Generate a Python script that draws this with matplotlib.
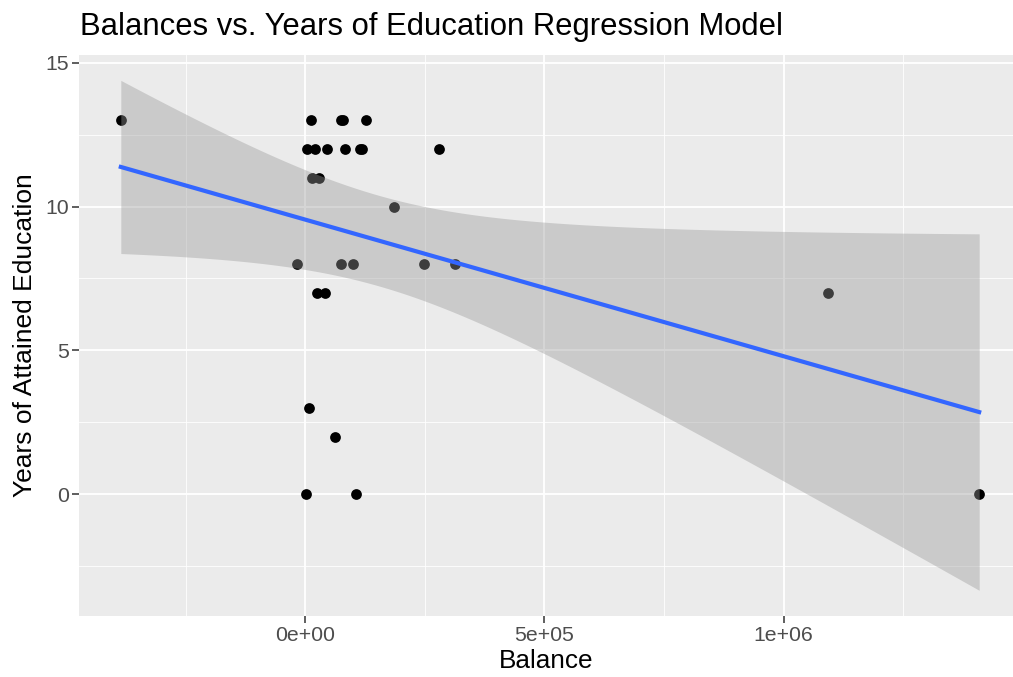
import numpy as np
import matplotlib.pyplot as plt
from matplotlib.ticker import FixedLocator

# balance (x) and years of attained education (y)
balance = [-385600, 12500, 74700, 78900, 127600,
           3600, 20900, 46000, 82200, 114400, 118600, 280300,
           14000, 27800,
           184800,
           -16700, 74700, 99000, 247500, 313800,
           23700, 41800, 1092700,
           6900,
           62100,
           1400, 105300, 1408600]
education = [13, 13, 13, 13, 13,
             12, 12, 12, 12, 12, 12, 12,
             11, 11,
             10,
             8, 8, 8, 8, 8,
             7, 7, 7,
             3,
             2,
             0, 0, 0]

x_ticks = [0, 5e5, 1e6]
x_tick_labels = ['0e+00', '5e+05', '1e+06']
y_ticks = [0, 5, 10, 15]

x = np.array(balance, dtype=float)
y = np.array(education, dtype=float)
n = len(x)

# linear model + 95% confidence band (like geom_smooth(method='lm'))
slope, intercept = np.polyfit(x, y, 1)
x_fit = np.linspace(x.min(), x.max(), 200)
y_fit = intercept + slope * x_fit
resid = y - (intercept + slope * x)
s = np.sqrt(np.sum(resid ** 2) / (n - 2))
sxx = np.sum((x - x.mean()) ** 2)
t_crit = 2.0555  # t(0.975, df=26)
se = s * np.sqrt(1 / n + (x_fit - x.mean()) ** 2 / sxx)

plt.rcParams['font.family'] = ['Liberation Sans', 'DejaVu Sans']

fig = plt.figure(figsize=(10.13, 6.77), dpi=100)
ax = fig.add_axes([79 / 1013, 1 - 615.7 / 677, 1 - 79 / 1013, (615.7 - 55) / 677])
ax.set_facecolor('#EBEBEB')

ax.scatter(x, y, s=60, color='black', zorder=3, linewidths=0)
ax.fill_between(x_fit, y_fit - t_crit * se, y_fit + t_crit * se,
                color='#999999', alpha=0.4, linewidth=0, zorder=4)
ax.plot(x_fit, y_fit, color='#3366FF', lw=3, zorder=5)

ax.set_xlim(-473000, 1479300)
ax.set_ylim(-4.23, 15.27)

ax.set_xticks(x_ticks)
ax.set_xticklabels(x_tick_labels)
ax.set_yticks(y_ticks)
ax.xaxis.set_minor_locator(FixedLocator([-2.5e5, 2.5e5, 7.5e5, 1.25e6]))
ax.yaxis.set_minor_locator(FixedLocator([-2.5, 2.5, 7.5, 12.5]))
ax.grid(which='major', color='white', lw=1.3, zorder=0)
ax.grid(which='minor', color='white', lw=0.6, zorder=0)
ax.set_axisbelow(True)
ax.tick_params(which='major', length=5, width=1.1, color='#333333',
               labelsize=15.3, labelcolor='#4D4D4D', pad=2.5)
ax.tick_params(which='minor', length=0)
for sp in ax.spines.values():
    sp.set_visible(False)

ax.set_xlabel('Balance', fontsize=18.8, labelpad=3)
ax.set_ylabel('Years of Attained Education', fontsize=19, labelpad=6)
fig.text(80 / 1013, 1 - 35 / 677, 'Balances vs. Years of Education Regression Model',
         fontsize=22.3, ha='left', va='baseline')

fig.savefig('out.png', dpi=100)
